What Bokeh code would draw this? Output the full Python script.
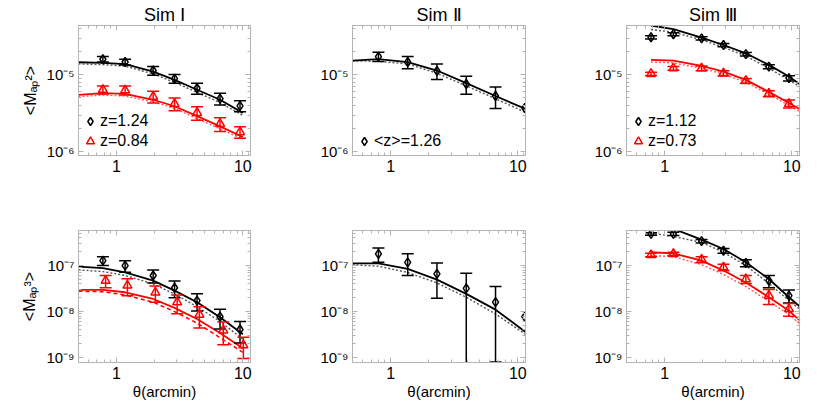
from bokeh.plotting import figure
from bokeh.layouts import column, row
from bokeh.models import (ColumnDataSource, FixedTicker, LogAxis, Range1d,
                          CustomJSTickFormatter, Legend, LegendItem)
from bokeh.core.properties import value
from bokeh.embed import file_html
from bokeh.resources import INLINE

FONT = "Liberation Sans"
FRAME = "#b4b4b4"
BLACK = "#000000"
RED = "#ff0000"

# ---------------- data ----------------
titles = ["Sim \u2160", "Sim \u2161", "Sim \u2162"]
ylabels = ["<M\u2090\u209a\u00b2>", "<M\u2090\u209a\u00b3>"]
xlabel = "\u03b8(arcmin)"
x_range = [0.5, 11.5]
y_range_m2 = [8.9e-7, 4.4e-5]
y_range_m3 = [7.8e-10, 5.8e-7]
x_major = [1, 10]
x_minor = [0.5, 0.6, 0.7, 0.8, 0.9, 2, 3, 4, 5, 6, 7, 8, 9, 11]
y_major_m2 = [1e-6, 1e-5]
y_minor_m2 = [2e-6, 3e-6, 4e-6, 5e-6, 6e-6, 7e-6, 8e-6, 9e-6, 2e-5, 3e-5, 4e-5]
y_major_m3 = [1e-9, 1e-8, 1e-7]
y_minor_m3 = [2e-9, 3e-9, 4e-9, 5e-9, 6e-9, 7e-9, 8e-9, 9e-9,
              2e-8, 3e-8, 4e-8, 5e-8, 6e-8, 7e-8, 8e-8, 9e-8,
              2e-7, 3e-7, 4e-7, 5e-7]

# measurement angles
theta_sim1 = [0.78, 1.17, 1.95, 2.88, 4.34, 6.6, 9.5]
theta_sim1_red_m3 = [0.82, 1.22, 2.03, 3.02, 4.53, 7.0, 10.1]
theta_sim2 = [0.8, 1.36, 2.31, 3.93, 6.68, 11.36]
theta_sim3 = [0.78, 1.17, 1.95, 2.9, 4.35, 6.6, 9.5]

# model angles
theta_model1 = [0.5, 0.78, 1.17, 1.95, 2.88, 4.34, 6.6, 10]
theta_model2 = [0.5, 0.8, 1.36, 2.31, 3.93, 6.68, 11.5]
theta_model3 = [0.78, 1.17, 1.95, 2.9, 4.35, 6.6, 9.5, 11.5]

# Sim I  <Map^2>
s1_m2_hiz = [1.6e-5, 1.47e-5, 1.14e-5, 8.95e-6, 6.7e-6, 4.9e-6, 3.95e-6]
s1_m2_hiz_err = [1.3e-6, 1.3e-6, 1.5e-6, 1.2e-6, 1.1e-6, 8.5e-7, 6.5e-7]
s1_m2_loz = [6.4e-6, 6.3e-6, 5.2e-6, 4.2e-6, 3.2e-6, 2.3e-6, 1.8e-6]
s1_m2_loz_err = [7.5e-7, 8.5e-7, 9e-7, 8e-7, 6.3e-7, 4.7e-7, 3.1e-7]
s1_m2_hiz_model = [1.46e-5, 1.43e-5, 1.38e-5, 1.1e-5, 8.6e-6, 6.4e-6, 4.74e-6, 3.2e-6]
s1_m2_hiz_model2 = [1.39e-5, 1.36e-5, 1.3e-5, 1.03e-5, 8.0e-6, 5.9e-6, 4.35e-6, 2.95e-6]
s1_m2_loz_model = [5.5e-6, 5.8e-6, 5.65e-6, 4.74e-6, 3.9e-6, 2.9e-6, 2.13e-6, 1.55e-6]
s1_m2_loz_model2 = [5.2e-6, 5.45e-6, 5.3e-6, 4.45e-6, 3.65e-6, 2.7e-6, 1.98e-6, 1.45e-6]

# Sim II <Map^2>
s2_m2 = [1.73e-5, 1.47e-5, 1.13e-5, 7.6e-6, 5.3e-6, 3.7e-6]
s2_m2_err = [2.4e-6, 2.7e-6, 2.6e-6, 2.0e-6, 1.65e-6, 0]
s2_m2_model = [1.53e-5, 1.6e-5, 1.47e-5, 1.14e-5, 7.8e-6, 5.3e-6, 3.6e-6]
s2_m2_model2 = [1.52e-5, 1.5e-5, 1.39e-5, 1.05e-5, 7.2e-6, 4.9e-6, 3.25e-6]

# Sim III <Map^2>
s3_m2_hiz = [3.09e-5, 3.38e-5, 2.99e-5, 2.45e-5, 1.86e-5, 1.28e-5, 9.05e-6]
s3_m2_hiz_err = [1.5e-6, 1.5e-6, 1.5e-6, 1.2e-6, 1.0e-6, 8e-7, 7e-7]
s3_m2_loz = [1.03e-5, 1.22e-5, 1.22e-5, 1.05e-5, 8.35e-6, 5.7e-6, 4.2e-6]
s3_m2_loz_err = [5e-7, 7e-7, 9e-7, 8e-7, 6e-7, 5e-7, 5e-7]
s3_m2_hiz_model = [4.4e-5, 3.95e-5, 3.05e-5, 2.45e-5, 1.91e-5, 1.35e-5, 9.5e-6, 7.6e-6]
s3_m2_hiz_model2 = [3.9e-5, 3.6e-5, 2.85e-5, 2.29e-5, 1.76e-5, 1.22e-5, 8.6e-6, 7.0e-6]
s3_m2_loz_model = [1.57e-5, 1.53e-5, 1.31e-5, 1.1e-5, 8.6e-6, 6.0e-6, 4.3e-6, 3.6e-6]
s3_m2_loz_model2 = [1.47e-5, 1.43e-5, 1.22e-5, 1.02e-5, 8.0e-6, 5.6e-6, 4.0e-6, 3.35e-6]

# Sim I <Map^3>
s1_m3_hiz = [1.28e-7, 1.0e-7, 6.1e-8, 3.3e-8, 1.73e-8, 7.7e-9, 4.07e-9]
s1_m3_hiz_err = [2.7e-8, 2.8e-8, 1.9e-8, 1.3e-8, 7e-9, 3.5e-9, 2e-9]
s1_m3_loz = [4.7e-8, 3.7e-8, 2.6e-8, 1.6e-8, 8.6e-9, 3.9e-9, 1.85e-9]
s1_m3_loz_err = [1.4e-8, 1.5e-8, 1.0e-8, 7e-9, 4.2e-9, 2e-9, 9e-10]
s1_m3_hiz_model = [9.5e-8, 8.8e-8, 7.1e-8, 4.7e-8, 2.86e-8, 1.6e-8, 7.5e-9, 3.2e-9]
s1_m3_hiz_model2 = [8.1e-8, 7.4e-8, 6.1e-8, 4.0e-8, 2.4e-8, 1.28e-8, 6.1e-9, 2.5e-9]
s1_m3_loz_model = [2.96e-8, 2.96e-8, 2.63e-8, 1.88e-8, 1.2e-8, 6.9e-9, 3.4e-9, 1.6e-9]
s1_m3_loz_model2 = [2.76e-8, 2.7e-8, 2.3e-8, 1.6e-8, 1.0e-8, 5.6e-9, 2.7e-9, 1.3e-9]

# Sim II <Map^3>
s2_m3 = [1.8e-7, 1.18e-7, 6.6e-8, 3.2e-8, 1.6e-8, 7.7e-9]
s2_m3_err_hi = [6e-8, 6.2e-8, 4.8e-8, 3.6e-8, 1.9e-8, 0]
s2_m3_err_lo = [6.2e-8, 5.7e-8, 4.65e-8, 3.6e-8, 1.52e-8, 0]
s2_m3_model = [1.12e-7, 1.12e-7, 8.5e-8, 4.96e-8, 2.43e-8, 1.1e-8, 3.6e-9]
s2_m3_model2 = [1.04e-7, 9.7e-8, 7.1e-8, 4.2e-8, 2.05e-8, 8.9e-9, 3.2e-9]

# Sim III <Map^3>
s3_m3_hiz = [4.9e-7, 4.9e-7, 3.4e-7, 2.1e-7, 1.14e-7, 4.7e-8, 2.23e-8]
s3_m3_hiz_err = [3e-8, 4e-8, 3e-8, 2.5e-8, 2e-8, 1.4e-8, 7e-9]
s3_m3_loz = [1.7e-7, 1.8e-7, 1.35e-7, 9.2e-8, 5.1e-8, 2.23e-8, 1.14e-8]
s3_m3_loz_err = [1.5e-8, 1.5e-8, 2e-8, 1.5e-8, 1e-8, 8e-9, 3.5e-9]
s3_m3_hiz_model = [6.6e-7, 6.3e-7, 3.67e-7, 2.3e-7, 1.18e-7, 5.1e-8, 2.05e-8, 1.3e-8]
s3_m3_hiz_model2 = [5.1e-7, 4.3e-7, 3.2e-7, 1.95e-7, 1.0e-7, 4.1e-8, 1.73e-8, 1.15e-8]
s3_m3_loz_model = [1.95e-7, 1.85e-7, 1.28e-7, 7.8e-8, 4.3e-8, 2.05e-8, 1.04e-8, 6.5e-9]
s3_m3_loz_model2 = [1.65e-7, 1.57e-7, 1.05e-7, 6.4e-8, 3.5e-8, 1.67e-8, 8.6e-9, 5.5e-9]

legend_sim1 = ["z=1.24", "z=0.84"]
legend_sim2 = ["<z>=1.26"]
legend_sim3 = ["z=1.12", "z=0.73"]

# ---------------- drawing helpers ----------------
YFMT = """
const e = Math.round(Math.log10(tick));
const sup = {'-':'\u207b','0':'\u2070','1':'\u00b9','2':'\u00b2','3':'\u00b3','4':'\u2074',
             '5':'\u2075','6':'\u2076','7':'\u2077','8':'\u2078','9':'\u2079'};
return '10' + String(e).split('').map(c => sup[c]).join('');
"""
XFMT = "return String(Math.round(tick));"


def style_axis(ax, show_labels, fmt, size="14px"):
    ax.axis_line_color = FRAME
    ax.major_tick_line_color = FRAME
    ax.minor_tick_line_color = FRAME
    ax.major_tick_in = 5
    ax.major_tick_out = 0
    ax.minor_tick_in = 3
    ax.minor_tick_out = 0
    ax.major_label_text_font = FONT
    ax.axis_label_text_font = FONT
    ax.axis_label_text_font_style = "normal"
    ax.axis_label_text_color = BLACK
    ax.major_label_text_color = BLACK
    if show_labels:
        ax.major_label_text_font_size = size
        ax.major_label_standoff = 4
        ax.formatter = CustomJSTickFormatter(code=fmt)
    else:
        ax.major_label_text_font_size = "0px"
        ax.major_label_standoff = 0
        ax.formatter = CustomJSTickFormatter(code="return '';")


def make_fig(w, h, bl, br, bt, bb, yr, ymaj, ymin):
    p = figure(width=w, height=h, x_axis_type="log", y_axis_type="log",
               x_range=Range1d(*x_range), y_range=Range1d(*yr),
               output_backend="svg", toolbar_location=None,
               min_border_left=bl, min_border_right=br,
               min_border_top=bt, min_border_bottom=bb)
    p.grid.visible = False
    p.outline_line_color = FRAME
    p.outline_line_width = 1
    xt = FixedTicker(ticks=x_major, minor_ticks=x_minor)
    yt = FixedTicker(ticks=ymaj, minor_ticks=ymin)
    p.add_layout(LogAxis(ticker=xt), "above")
    p.add_layout(LogAxis(ticker=yt), "right")
    p.below[0].ticker = xt
    p.left[0].ticker = yt
    style_axis(p.below[0], True, XFMT, "16px")
    style_axis(p.left[0], True, YFMT, "15px")
    style_axis(p.above[0], False, "")
    style_axis(p.right[0], False, "")
    return p


def errorbars(p, x, y, elo, ehi, color):
    xs, lo, hi = [], [], []
    for xi, yi, a, b in zip(x, y, elo, ehi):
        if a > 0 or b > 0:
            xs.append(xi)
            lo.append(max(yi - a, 1e-14))
            hi.append(yi + b)
    src = ColumnDataSource(dict(x=xs, lo=lo, hi=hi))
    p.segment(x0="x", y0="lo", x1="x", y1="hi", source=src, line_color=color, line_width=1.5)
    p.scatter(x="x", y="lo", source=src, marker="dash", size=12, line_color=color, line_width=1.5)
    p.scatter(x="x", y="hi", source=src, marker="dash", size=12, line_color=color, line_width=1.5)


def points(p, x, y, color, marker):
    return p.scatter(x=x, y=y, marker=marker, size=9, fill_color=None,
                     line_color=color, line_width=1.5)


def model(p, x, y, color, dash="solid", width=1.8, alpha=1.0):
    p.line(x=x, y=y, line_color=color, line_width=width, line_dash=dash, line_alpha=alpha)


def add_title(p, text):
    p.title.text = text
    p.title.align = "center"
    p.title.text_font = FONT
    p.title.text_font_size = "18px"
    p.title.text_font_style = "normal"
    p.title.text_color = BLACK
    p.title.standoff = 2


def add_legend(p, renderers, labels):
    items = [LegendItem(label=value(lab), renderers=[r]) for r, lab in zip(renderers, labels)]
    lg = Legend(items=items, location=(2, 4), orientation="vertical",
                glyph_width=20, glyph_height=20, label_height=14, label_standoff=-2,
                padding=0, spacing=-6, margin=0, border_line_color=None,
                background_fill_alpha=0, label_text_font=FONT, label_text_font_size="16px",
                label_text_color=BLACK)
    p.add_layout(lg, "center")


# column geometry: (width, left, right)
cols = [(292, 78, 42), (273, 60, 40), (244, 61, 10)]
row1 = (195, 25, 40)
row2 = (207, 35, 40)

figs_top, figs_bot = [], []
for i, (w, l, r) in enumerate(cols):
    pt = make_fig(w, row1[0], l, r, row1[1], row1[2], y_range_m2, y_major_m2, y_minor_m2)
    pb = make_fig(w, row2[0], l, r, row2[1], row2[2], y_range_m3, y_major_m3, y_minor_m3)
    add_title(pt, titles[i])
    pb.below[0].axis_label = xlabel
    pb.below[0].axis_label_text_font_size = "15px"
    pb.below[0].axis_label_standoff = 1
    if i == 0:
        pt.left[0].axis_label = ylabels[0]
        pb.left[0].axis_label = ylabels[1]
        for pp in (pt, pb):
            pp.left[0].axis_label_text_font_size = "16px"
            pp.left[0].axis_label_standoff = 5
    figs_top.append(pt)
    figs_bot.append(pb)

GREY_DOT = "#555555"
PINK_DOT = "#ff5a5a"

# ---- Sim I, Map2
p = figs_top[0]
model(p, theta_model1, s1_m2_hiz_model2, GREY_DOT, "2 2", 1.4)
model(p, theta_model1, s1_m2_hiz_model, BLACK)
model(p, theta_model1, s1_m2_loz_model2, PINK_DOT, "2 2", 1.4)
model(p, theta_model1, s1_m2_loz_model, RED)
errorbars(p, theta_sim1, s1_m2_hiz, s1_m2_hiz_err, s1_m2_hiz_err, BLACK)
errorbars(p, theta_sim1, s1_m2_loz, s1_m2_loz_err, s1_m2_loz_err, RED)
rb = points(p, theta_sim1, s1_m2_hiz, BLACK, "diamond")
rr = points(p, theta_sim1, s1_m2_loz, RED, "triangle")
add_legend(p, [rb, rr], legend_sim1)

# ---- Sim II, Map2
p = figs_top[1]
model(p, theta_model2, s2_m2_model2, GREY_DOT, "2 2", 1.4)
model(p, theta_model2, s2_m2_model, BLACK)
errorbars(p, theta_sim2, s2_m2, s2_m2_err, s2_m2_err, BLACK)
rb = points(p, theta_sim2, s2_m2, BLACK, "diamond")
add_legend(p, [rb], legend_sim2)

# ---- Sim III, Map2
p = figs_top[2]
model(p, theta_model3, s3_m2_hiz_model2, GREY_DOT, "2 2", 1.4)
model(p, theta_model3, s3_m2_hiz_model, BLACK)
model(p, theta_model3, s3_m2_loz_model2, PINK_DOT, "2 2", 1.4)
model(p, theta_model3, s3_m2_loz_model, RED)
errorbars(p, theta_sim3, s3_m2_hiz, s3_m2_hiz_err, s3_m2_hiz_err, BLACK)
errorbars(p, theta_sim3, s3_m2_loz, s3_m2_loz_err, s3_m2_loz_err, RED)
rb = points(p, theta_sim3, s3_m2_hiz, BLACK, "diamond")
rr = points(p, theta_sim3, s3_m2_loz, RED, "triangle")
add_legend(p, [rb, rr], legend_sim3)

# ---- Sim I, Map3
p = figs_bot[0]
model(p, theta_model1, s1_m3_hiz_model2, GREY_DOT, "2 2", 1.4)
model(p, theta_model1, s1_m3_hiz_model, BLACK)
model(p, theta_model1, s1_m3_loz_model2, RED, "4 3", 1.5)
model(p, theta_model1, s1_m3_loz_model, RED)
errorbars(p, theta_sim1, s1_m3_hiz, s1_m3_hiz_err, s1_m3_hiz_err, BLACK)
errorbars(p, theta_sim1_red_m3, s1_m3_loz, s1_m3_loz_err, s1_m3_loz_err, RED)
points(p, theta_sim1, s1_m3_hiz, BLACK, "diamond")
points(p, theta_sim1_red_m3, s1_m3_loz, RED, "triangle")

# ---- Sim II, Map3
p = figs_bot[1]
model(p, theta_model2, s2_m3_model2, GREY_DOT, "2 2", 1.4)
model(p, theta_model2, s2_m3_model, BLACK)
errorbars(p, theta_sim2, s2_m3, s2_m3_err_lo, s2_m3_err_hi, BLACK)
points(p, theta_sim2, s2_m3, BLACK, "diamond")

# ---- Sim III, Map3
p = figs_bot[2]
model(p, theta_model3, s3_m3_hiz_model2, GREY_DOT, "2 2", 1.4)
model(p, theta_model3, s3_m3_hiz_model, BLACK)
model(p, theta_model3, s3_m3_loz_model2, PINK_DOT, "2 2", 1.4)
model(p, theta_model3, s3_m3_loz_model, RED)
errorbars(p, theta_sim3, s3_m3_hiz, s3_m3_hiz_err, s3_m3_hiz_err, BLACK)
errorbars(p, theta_sim3, s3_m3_loz, s3_m3_loz_err, s3_m3_loz_err, RED)
points(p, theta_sim3, s3_m3_hiz, BLACK, "diamond")
points(p, theta_sim3, s3_m3_loz, RED, "triangle")

layout = column(row(*figs_top), row(*figs_bot))
open("out.html", "w").write(file_html(layout, INLINE))
